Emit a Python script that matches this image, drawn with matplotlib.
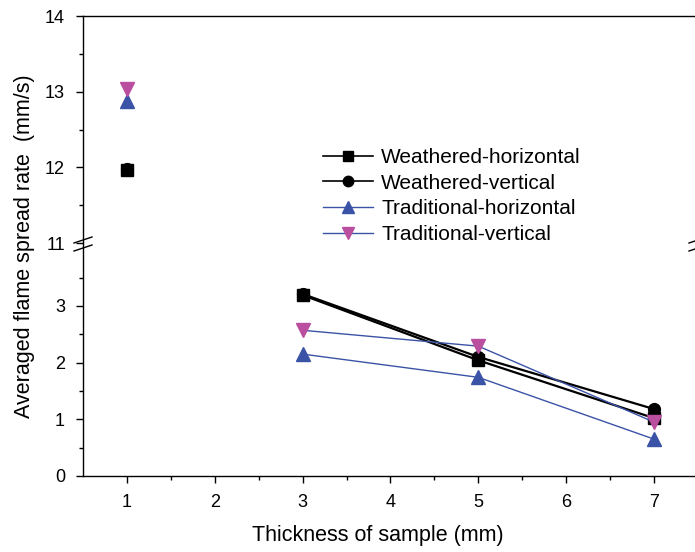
import matplotlib
matplotlib.use('Agg')
import matplotlib.pyplot as plt
from matplotlib.lines import Line2D

plt.rcParams['font.family'] = ['Liberation Sans', 'DejaVu Sans']

# data (x = sample thickness in mm)
thickness = [1, 3, 5, 7]
weathered_horizontal = [11.97, 3.19, 2.04, 1.02]
weathered_vertical = [11.98, 3.21, 2.10, 1.18]
traditional_horizontal = [12.88, 2.15, 1.74, 0.65]
traditional_vertical = [13.04, 2.57, 2.29, 0.95]

series = [
    ('Weathered-horizontal', weathered_horizontal, 's', 'black', 'black', 1.6),
    ('Weathered-vertical', weathered_vertical, 'o', 'black', 'black', 1.6),
    ('Traditional-horizontal', traditional_horizontal, '^', '#3B53A6', '#3B53A6', 1.0),
    ('Traditional-vertical', traditional_vertical, 'v', '#BA4E9F', '#3B53A6', 1.0),
]

W, H = 695, 552
fig = plt.figure(figsize=(W / 100, H / 100), dpi=100)

left = 83 / W
right = 698 / W
y_top, y_brk, y_bot = 16, 243, 476
ax_top = fig.add_axes([left, 1 - y_brk / H, right - left, (y_brk - y_top) / H])
ax_bot = fig.add_axes([left, 1 - y_bot / H, right - left, (y_bot - y_brk) / H])

handles = []
for name, vals, mk, mcol, lcol, lw in series:
    ms = 8.5 if mk in ('s', 'o') else 9.5
    # x = 1 sits above the break, drawn without a connecting line
    ax_top.plot(thickness[:1], vals[:1], linestyle='none', marker=mk, ms=ms,
                color=mcol, mec=mcol, clip_on=False)
    ax_bot.plot(thickness[1:], vals[1:], color=lcol, lw=lw, marker=mk, ms=ms,
                mfc=mcol, mec=mcol, clip_on=False)
    handles.append(Line2D([], [], color=lcol, lw=1.2 if lcol == 'black' else 1.0,
                          marker=mk, ms=7.5 if mk in ('s', 'o') else 8.5,
                          mfc=mcol, mec=mcol, label=name))

for ax in (ax_top, ax_bot):
    ax.set_xlim(0.5, 7.5)
    ax.spines['right'].set_visible(False)
    for s in ax.spines.values():
        s.set_linewidth(1.0)
    ax.tick_params(which='major', direction='out', length=5, width=1,
                   labelsize=13, pad=8)
    ax.tick_params(which='minor', direction='out', length=3, width=1)

ax_top.set_ylim(11, 14)
ax_top.set_yticks([11, 12, 13, 14])
ax_top.set_yticks([11.5, 12.5, 13.5], minor=True)
ax_top.spines['bottom'].set_visible(False)
ax_top.set_xticks([])
ax_top.set_xticks([], minor=True)

ax_bot.set_ylim(0, (y_bot - y_brk) / 56.7)
ax_bot.set_yticks([0, 1, 2, 3])
ax_bot.set_yticks([0.5, 1.5, 2.5, 3.5], minor=True)
ax_bot.spines['top'].set_visible(False)
ax_bot.set_xticks([1, 2, 3, 4, 5, 6, 7])
ax_bot.set_xticks([1.5, 2.5, 3.5, 4.5, 5.5, 6.5], minor=True)

# break marks on both spines
for xc in (83, 698):
    for dy in (-3, 5):
        fig.add_artist(Line2D([(xc - 9) / W, (xc + 9) / W],
                              [1 - (y_brk + dy + 3) / H, 1 - (y_brk + dy - 3) / H],
                              color='black', lw=1.0))

fig.legend(handles=handles, loc='upper left',
           bbox_to_anchor=(323 / W, 1 - 148 / H), frameon=False,
           fontsize=15, handlelength=2.4, handletextpad=0.4,
           labelspacing=0.32, borderpad=0, borderaxespad=0)

fig.text(0.543, 1 - 535 / H, 'Thickness of sample (mm)', fontsize=15.5,
         ha='center', va='center')
fig.text(25 / W, 1 - 246 / H, 'Averaged flame spread rate  (mm/s)',
         fontsize=15.5, rotation=90, ha='center', va='center')

fig.savefig('out.png', dpi=100)
